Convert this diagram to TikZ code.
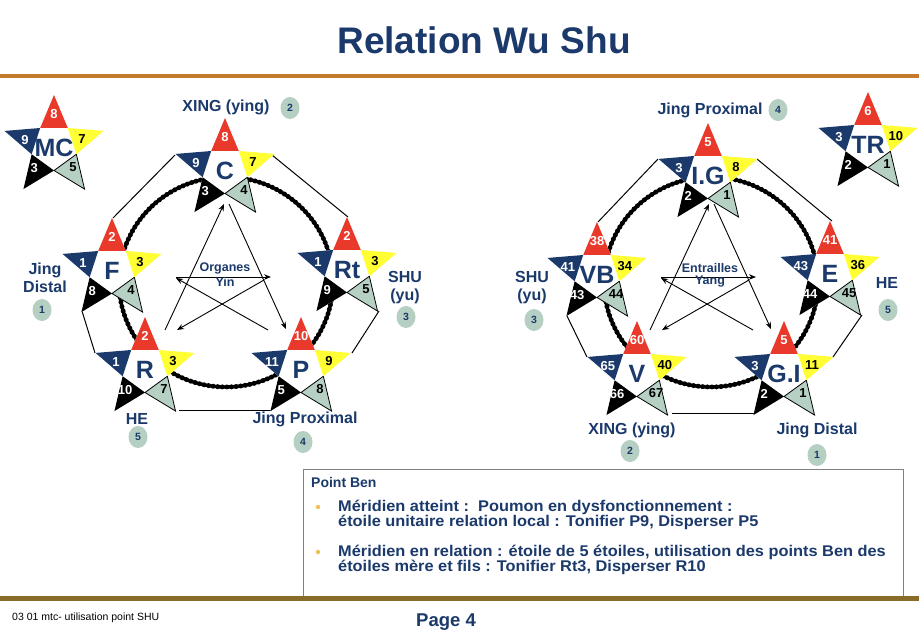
\documentclass[tikz,border=0pt]{standalone}
\usepackage{fontspec}
\setmainfont{Liberation Sans}
\usetikzlibrary{arrows.meta,shapes.geometric}
\definecolor{navy}{HTML}{1B3A6B}
\definecolor{sred}{HTML}{E8392B}
\definecolor{syellow}{HTML}{FFFF33}
\definecolor{sgreen}{HTML}{B7D0C4}
\definecolor{badgec}{HTML}{B6CFC3}
\definecolor{topline}{HTML}{C47A2C}
\definecolor{botline}{HTML}{8B6B2A}
\definecolor{bulletc}{HTML}{F2C05A}
\def\SR{52pt}
\def\SRi{23.5pt}
\tikzset{
 starnum/.style={font=\fontsize{13}{13}\selectfont\bfseries, inner sep=0pt},
 starlab/.style={font=\fontsize{25}{25}\selectfont\bfseries, text=navy, inner sep=0pt},
 lab/.style={font=\fontsize{16}{18}\selectfont\bfseries, text=navy, align=center, inner sep=0pt},
 midlab/.style={font=\fontsize{12.5}{13}\selectfont\bfseries, text=navy, inner sep=0pt},
 badge/.style={ellipse, fill=badgec, minimum width=19pt, minimum height=22pt, inner sep=0pt, font=\fontsize{10.5}{11}\selectfont\bfseries, text=navy},
 arr/.style={-{Stealth[length=7pt,width=5.5pt]}, line width=0.9pt},
 link/.style={line width=1pt},
 boxtext/.style={font=\fontsize{15.5}{16}\selectfont\bfseries, text=navy, inner sep=0pt, anchor=west},
 bulletdot/.style={circle, fill=bulletc, minimum size=4.5pt, inner sep=0pt},
}
\newcommand{\bxs}[1]{\scalebox{1.055}[1]{#1}}
% #1 name, #2 x, #3 y, #4 label, #5 top, #6 left, #7 right, #8 bottom-left, #9 bottom-right
\newcommand{\wustar}[9]{%
\begin{scope}[shift={(#2,#3)}]
\coordinate (#1-t) at (90:\SR);
\coordinate (#1-l) at (162:\SR);
\coordinate (#1-bl) at (234:\SR);
\coordinate (#1-br) at (306:\SR);
\coordinate (#1-r) at (18:\SR);
\fill[white] (90:\SR)--(126:\SRi)--(162:\SR)--(198:\SRi)--(234:\SR)--(270:\SRi)--(306:\SR)--(342:\SRi)--(18:\SR)--(54:\SRi)--cycle;
\fill[sred] (90:\SR)--(54:\SRi)--(126:\SRi)--cycle;
\fill[navy] (162:\SR)--(126:\SRi)--(198:\SRi)--cycle;
\fill[black] (234:\SR)--(198:\SRi)--(270:\SRi)--cycle;
\filldraw[fill=sgreen, draw=black, line width=0.8pt] (306:\SR)--(270:\SRi)--(342:\SRi)--cycle;
\fill[syellow] (18:\SR)--(342:\SRi)--(54:\SRi)--cycle;
\node[starnum, text=white] (#1-n1) at (90:33pt) {#5};
\node[starnum, text=white] (#1-n2) at (166:30pt) {#6};
\node[starnum, text=black] (#1-n3) at (16:29pt) {#7};
\node[starnum, text=white] (#1-n4) at (227:29pt) {#8};
\node[starnum, text=black] (#1-n5) at (313:28pt) {#9};
\node[starlab] (#1) at (0pt,-1pt) {#4};
\end{scope}}
% #1 prefix, #2 dx, #3 line 1, #4 line 2
\newcommand{\wheel}[4]{%
\begin{scope}[shift={(#2,0)}]
\draw[line width=3.4pt] (226,282) ellipse [x radius=107, y radius=105];
\draw[line width=5pt, dash pattern=on 0pt off 4.6pt, line cap=round] (226,282) ellipse [x radius=107, y radius=105];
\coordinate (#1-a1) at (165,330);
\coordinate (#1-a2) at (224,204);
\coordinate (#1-a3) at (229,204);
\coordinate (#1-a4) at (286,329);
\coordinate (#1-a5) at (268,330);
\coordinate (#1-a6) at (176,278);
\coordinate (#1-a7) at (176,277);
\coordinate (#1-a8) at (271,277);
\coordinate (#1-a9) at (264,280);
\coordinate (#1-a10) at (177,330);
\draw[arr] (#1-a1) -- (#1-a2);
\draw[arr] (#1-a3) -- (#1-a4);
\draw[arr] (#1-a5) -- (#1-a6);
\draw[arr] (#1-a7) -- (#1-a8);
\draw[arr] (#1-a9) -- (#1-a10);
\node[midlab] (#1-m1) at (225,268) {#3};
\node[midlab] (#1-m2) at (225,282) {#4};
\end{scope}}
\begin{document}
\begin{tikzpicture}[x=1pt,y=-1pt]
\useasboundingbox (0,0) rectangle (919,643);
\fill[white] (0,0) rectangle (919,643);
% title
\node[font=\fontsize{37}{40}\selectfont\bfseries, text=navy, inner sep=0pt] (title) at (484,40) {Relation Wu Shu};
\draw[topline, line width=3.5pt] (0,76) -- (919,76);
% wheels
\wheel{yin}{0}{Organes}{Yin}
\wheel{yang}{485}{Entrailles}{Yang}
% outer links (left)
\draw[link] (175,155) -- (113,218);
\draw[link] (272,155) -- (348,217);
\draw[link] (82,311) -- (95,353);
\draw[link] (379,311) -- (352,353);
\draw[link] (179,410) -- (272,410);
% outer links (right)
\draw[link] (658,159) -- (598,222);
\draw[link] (757,159) -- (832,221);
\draw[link] (567,316) -- (587,357);
\draw[link] (862,315) -- (833,357);
\draw[link] (672,413) -- (755,413);
% stars left
\wustar{MC}{54}{147}{MC}{8}{9}{7}{3}{5}
\wustar{C}{225}{170}{C}{8}{9}{7}{3}{4}
\wustar{F}{112}{270}{F}{2}{1}{3}{8}{4}
\wustar{Rt}{347}{269}{Rt}{2}{1}{3}{9}{5}
\wustar{R}{145}{369}{R}{2}{1}{3}{10}{7}
\wustar{P}{301}{369}{P}{10}{11}{9}{5}{8}
% stars right
\wustar{IG}{708}{175}{I.G}{5}{3}{8}{2}{1}
\wustar{TR}{868}{144}{TR}{6}{3}{10}{2}{1}
\wustar{VB}{597}{274}{VB}{38}{41}{34}{43}{44}
\wustar{E}{830}{273}{E}{41}{43}{36}{44}{45}
\wustar{V}{637}{373}{V}{60}{65}{40}{66}{67}
\wustar{GI}{784}{373}{G.I}{5}{3}{11}{2}{1}
% labels left
\node[lab] (l1) at (226,107) {XING (ying)};
\node[badge] (b1) at (290,108) {2};
\node[lab] (l2) at (45,278) {Jing\\Distal};
\node[badge] (b2) at (42,310) {1};
\node[lab] (l3) at (405,288) {SHU\\(yu)};
\node[badge] (b3) at (406,317) {3};
\node[lab] (l4) at (137,419) {HE};
\node[badge] (b4) at (138,437) {5};
\node[lab] (l5) at (305,419) {Jing Proximal};
\node[badge] (b5) at (303,442) {4};
% labels right
\node[lab] (r1) at (710,110) {Jing Proximal};
\node[badge] (rb1) at (778,110) {4};
\node[lab] (r2) at (532,288) {SHU\\(yu)};
\node[badge] (rb2) at (534,320) {3};
\node[lab] (r3) at (887,283) {HE};
\node[badge] (rb3) at (888,310) {5};
\node[lab] (r4) at (632,430) {XING (ying)};
\node[badge] (rb4) at (630,451) {2};
\node[lab] (r5) at (817,430) {Jing Distal};
\node[badge] (rb5) at (817,455) {1};
% text box
\draw[gray, line width=0.8pt] (303,469) rectangle (903,597);
\node[boxtext, font=\fontsize{14}{15}\selectfont\bfseries] (pb) at (311,482) {Point Ben};
\node[bulletdot] (d1) at (318,507) {};
\node[boxtext] (t1) at (338,507) {\bxs{Méridien atteint :\ \ Poumon en dysfonctionnement :}};
\node[boxtext] (t2) at (338,522) {\bxs{étoile unitaire relation local : Tonifier P9, Disperser P5}};
\node[bulletdot] (d2) at (318,552) {};
\node[boxtext] (t3) at (338,552) {\bxs{Méridien en relation : étoile de 5 étoiles, utilisation des points Ben des}};
\node[boxtext] (t4) at (338,567) {\bxs{étoiles mère et fils : Tonifier Rt3, Disperser R10}};
% footer
\draw[botline, line width=5pt] (0,598) -- (919,598);
\node[font=\fontsize{10.5}{11}\selectfont, inner sep=0pt, anchor=west] (foot) at (12,618) {03 01 mtc- utilisation point SHU};
\node[font=\fontsize{18.5}{19}\selectfont\bfseries, text=navy, inner sep=0pt] (page) at (446,622) {Page 4};
\end{tikzpicture}
\end{document}
